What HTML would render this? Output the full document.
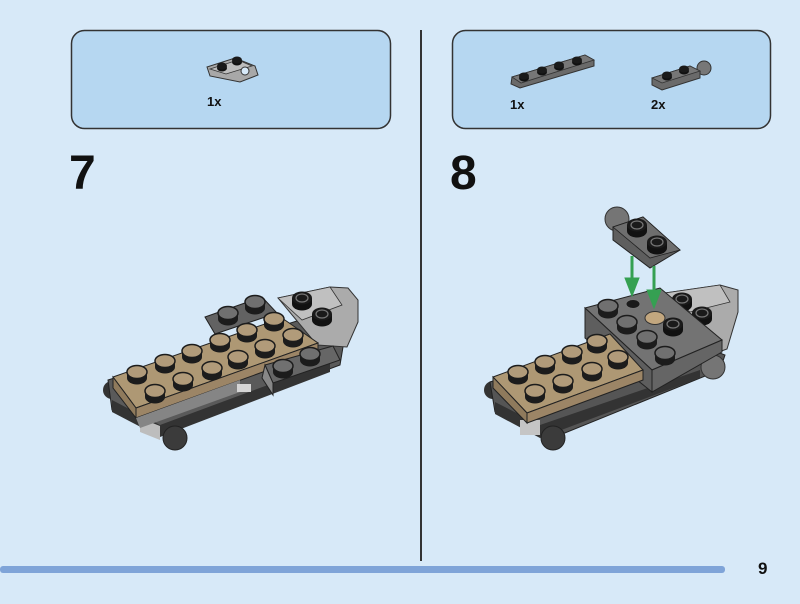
<!DOCTYPE html>
<html><head><meta charset="utf-8"><style>
html,body{margin:0;padding:0;background:#d7e9f8;}
body{width:800px;height:604px;overflow:hidden;position:relative;font-family:"Liberation Sans",sans-serif;}
</style></head><body>
<svg width="800" height="604" viewBox="0 0 800 604" xmlns="http://www.w3.org/2000/svg" style="position:absolute;left:0;top:0">
<defs>
<g id="studT"><rect x="-10" y="-1" width="20" height="6" fill="#1c1c1c"/><ellipse cx="0" cy="5" rx="10" ry="6.5" fill="#1c1c1c"/><ellipse cx="0" cy="-1" rx="10" ry="6.5" fill="#b19b7a" stroke="#1c1c1c" stroke-width="1.5"/></g>
<g id="studD"><rect x="-10" y="-1" width="20" height="6" fill="#1c1c1c"/><ellipse cx="0" cy="5" rx="10" ry="6.5" fill="#1c1c1c"/><ellipse cx="0" cy="-1" rx="10" ry="6.5" fill="#707070" stroke="#1c1c1c" stroke-width="1.5"/></g>
<g id="studB"><rect x="-10" y="-1" width="20" height="6" fill="#111"/><ellipse cx="0" cy="5" rx="10" ry="6.5" fill="#111"/><ellipse cx="0" cy="-1" rx="10" ry="6.5" fill="#1a1a1a"/><ellipse cx="0" cy="-1" rx="6" ry="4" fill="none" stroke="#777" stroke-width="1.2"/></g>
<g id="studS"><ellipse cx="0" cy="2" rx="5" ry="3.5" fill="#111"/><ellipse cx="0" cy="0" rx="5" ry="3.5" fill="#1a1a1a"/></g>
</defs>
<rect x="71.5" y="30.5" width="319" height="98" rx="13" fill="#b6d7f1" stroke="#333" stroke-width="1.5"/>
<rect x="452.5" y="30.5" width="318" height="98" rx="13" fill="#b6d7f1" stroke="#333" stroke-width="1.5"/>
<line x1="421" y1="30" x2="421" y2="561" stroke="#333" stroke-width="2"/>
<rect x="0" y="566" width="725" height="7" rx="3" fill="#7fa4d8"/>
<text x="758" y="574" font-size="17" font-weight="bold" fill="#111">9</text>
<text x="69" y="189" font-size="48" font-weight="bold" fill="#111">7</text>
<text x="450" y="189" font-size="48" font-weight="bold" fill="#111">8</text>
<text x="207" y="106" font-size="13" font-weight="bold" fill="#111">1x</text>
<text x="510" y="109" font-size="13" font-weight="bold" fill="#111">1x</text>
<text x="651" y="109" font-size="13" font-weight="bold" fill="#111">2x</text>

<polygon points="207,67 235,58 255,66 258,75 240,82 210,76" fill="#a8a8a8" stroke="#333"/>
<polygon points="210,69 238,60 252,66 226,74" fill="#bdbdbd" stroke="#333" stroke-width="0.8"/>
<use href="#studS" x="222" y="66"/><use href="#studS" x="237" y="60"/>
<circle cx="245" cy="71" r="4" fill="#d7e9f8" stroke="#333"/>
<polygon points="512,77 585,55 594,60 594,66 520,88 511,84" fill="#6a6a6a" stroke="#333"/>
<polygon points="512,77 585,55 594,60 521,83" fill="#777" stroke="#333" stroke-width="0.8"/>
<use href="#studS" x="524" y="76"/><use href="#studS" x="542" y="70"/><use href="#studS" x="559" y="65"/><use href="#studS" x="577" y="60"/>
<circle cx="704" cy="68" r="7" fill="#777" stroke="#333"/>
<polygon points="652,78 690,66 700,71 700,78 662,90 652,85" fill="#6a6a6a" stroke="#333"/>
<polygon points="652,78 690,66 700,71 662,83" fill="#777" stroke="#333" stroke-width="0.8"/>
<use href="#studS" x="667" y="75"/><use href="#studS" x="684" y="69"/>

<!-- MODEL 7 -->
<circle cx="112" cy="390" r="9" fill="#333"/>
<polygon points="108,380 300,320 345,335 340,365 160,432 112,410" fill="#5a5a5a" stroke="#222"/>
<polygon points="112,400 160,425 330,362 330,372 160,437 112,412" fill="#333"/>
<polygon points="140,418 160,426 160,440 140,432" fill="#bdbdbd"/>
<circle cx="175" cy="438" r="12" fill="#3b3b3b" stroke="#222"/>
<polygon points="205,317 262,297 277,313 215,334" fill="#626262" stroke="#222"/>
<use href="#studD" x="228" y="314"/><use href="#studD" x="255" y="303"/>
<polygon points="278,298 330,287 348,288 358,300 358,322 347,347 317,345" fill="#ababab" stroke="#333"/>
<polygon points="278,298 330,287 342,305 302,320" fill="#c0c0c0" stroke="#333" stroke-width="0.8"/>
<use href="#studB" x="302" y="299"/><use href="#studB" x="322" y="315"/>
<polygon points="113,377 282,318 318,343 136,408" fill="#ae9874" stroke="#222"/>
<polygon points="113,377 136,408 136,418 113,388" fill="#8f7a5c" stroke="#222"/>
<polygon points="136,408 318,343 318,352 136,418" fill="#9c8566" stroke="#222"/>
<polygon points="136,418 240,380 240,392 140,428" fill="#858585"/>
<rect x="237" y="384" width="14" height="8" fill="#d5d5d5"/>
<use href="#studT" x="137" y="373"/><use href="#studT" x="165" y="362"/><use href="#studT" x="192" y="352"/><use href="#studT" x="220" y="341"/><use href="#studT" x="247" y="331"/><use href="#studT" x="274" y="320"/>
<use href="#studT" x="155" y="392"/><use href="#studT" x="183" y="380"/><use href="#studT" x="212" y="369"/><use href="#studT" x="238" y="358"/><use href="#studT" x="265" y="347"/><use href="#studT" x="293" y="336"/>
<polygon points="265,365 333,346 340,360 273,383" fill="#666" stroke="#222"/>
<polygon points="265,365 273,383 273,395 262,378" fill="#888" stroke="#222"/>
<use href="#studD" x="283" y="367"/><use href="#studD" x="310" y="355"/>

<!-- MODEL 8 -->
<circle cx="493" cy="390" r="9" fill="#333"/>
<polygon points="490,382 600,345 700,345 725,355 720,370 560,435 495,412" fill="#555" stroke="#222"/>
<polygon points="495,402 540,425 700,370 700,378 540,438 495,414" fill="#333"/>
<rect x="520" y="420" width="20" height="15" fill="#c5c5c5"/>
<circle cx="553" cy="438" r="12" fill="#3b3b3b" stroke="#222"/>
<circle cx="713" cy="367" r="12" fill="#757575" stroke="#333"/>
<polygon points="665,293 720,285 738,290 738,312 727,349 705,357" fill="#ababab" stroke="#333"/>
<polygon points="665,293 720,285 730,302 690,312" fill="#c0c0c0" stroke="#333" stroke-width="0.8"/>
<use href="#studB" x="682" y="300"/><use href="#studB" x="702" y="314"/><use href="#studB" x="693" y="342"/>
<polygon points="585,308 660,288 722,340 652,370" fill="#737373" stroke="#222"/>
<polygon points="585,308 652,370 652,392 585,338" fill="#5e5e5e" stroke="#222"/>
<polygon points="652,370 722,340 722,352 652,392" fill="#656565" stroke="#222"/>
<use href="#studD" x="608" y="307"/><use href="#studD" x="627" y="323"/><use href="#studD" x="647" y="338"/><use href="#studD" x="665" y="354"/>
<use href="#studB" x="673" y="325"/>
<ellipse cx="633" cy="304" rx="7" ry="4.5" fill="#1a1a1a" stroke="#777"/>
<ellipse cx="655" cy="318" rx="10" ry="6.5" fill="#c2a77f" stroke="#333"/>
<polygon points="493,377 610,334 643,370 527,413" fill="#ae9874" stroke="#222"/>
<polygon points="493,377 527,413 527,423 493,388" fill="#8f7a5c" stroke="#222"/>
<polygon points="527,413 643,370 643,380 527,423" fill="#9c8566" stroke="#222"/>
<use href="#studT" x="518" y="373"/><use href="#studT" x="545" y="363"/><use href="#studT" x="572" y="353"/><use href="#studT" x="597" y="342"/>
<use href="#studT" x="535" y="392"/><use href="#studT" x="563" y="382"/><use href="#studT" x="592" y="370"/><use href="#studT" x="618" y="358"/>
<circle cx="617" cy="219" r="12" fill="#757575" stroke="#333"/>
<polygon points="613,227 643,217 680,250 650,268 613,240" fill="#5e5e5e" stroke="#222"/>
<polygon points="613,227 643,217 680,250 650,258" fill="#6e6e6e" stroke="#222" stroke-width="0.8"/>
<use href="#studB" x="637" y="226"/><use href="#studB" x="657" y="243"/>
<g stroke="#35a052" stroke-width="3" fill="#35a052">
<line x1="632" y1="256" x2="632" y2="280"/><polygon points="625,278 639,278 632,296" stroke-width="1"/>
<line x1="654" y1="266" x2="654" y2="292"/><polygon points="647,290 661,290 654,308" stroke-width="1"/>
</g>
</svg>
</body></html>
